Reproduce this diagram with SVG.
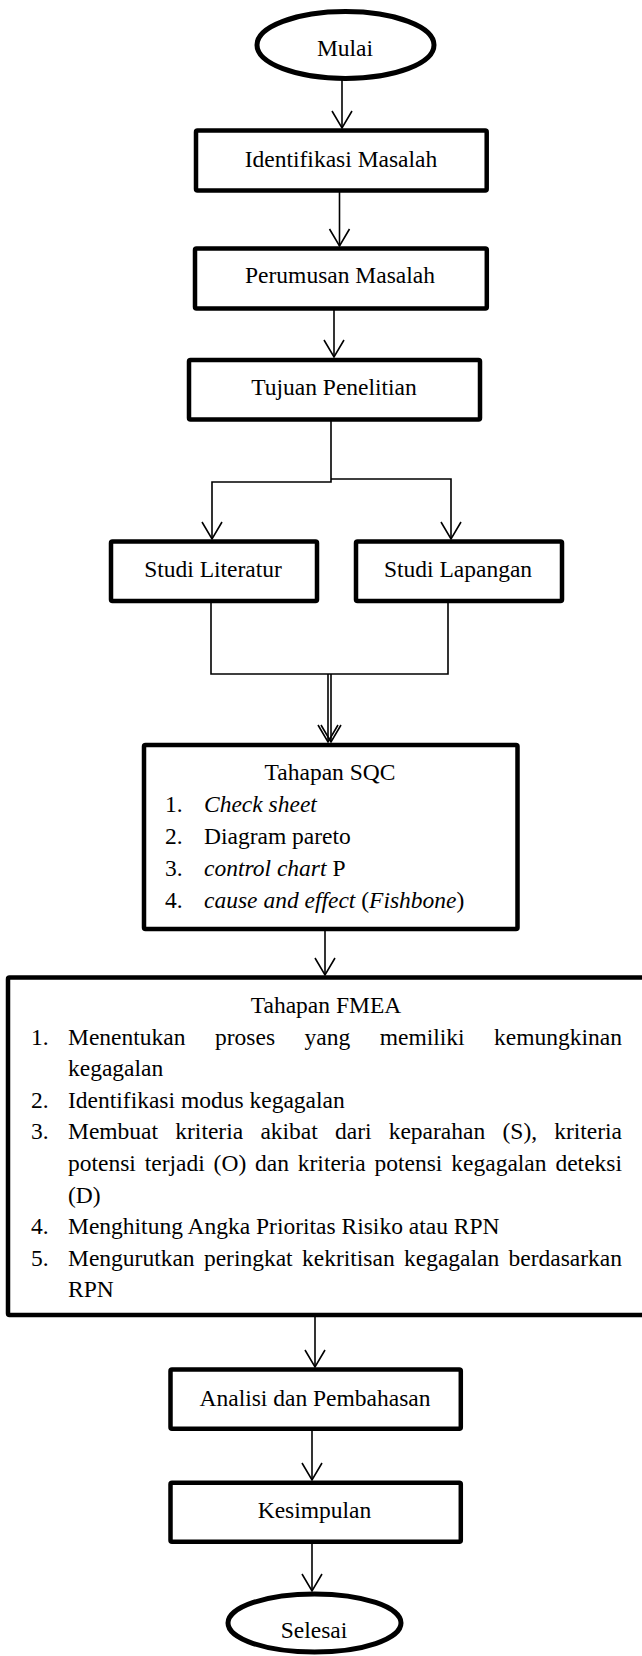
<svg xmlns="http://www.w3.org/2000/svg" width="642" height="1656" viewBox="0 0 642 1656">
<style>
text{font-family:'Liberation Serif','DejaVu Serif',serif;font-size:23.5px;fill:#000}
.c{text-anchor:middle}
.e{text-anchor:end}
.i{font-style:italic}
.box{fill:#fff;stroke:#000;stroke-width:4.5}
.term{fill:#fff;stroke:#000;stroke-width:5}
.ln{fill:none;stroke:#000;stroke-width:1.6}
</style>
<defs>
<marker id="arr" markerUnits="userSpaceOnUse" markerWidth="40" markerHeight="40" viewBox="-20 -20 40 40" refX="0" refY="0" orient="auto" overflow="visible">
<path d="M-17,-10 L0,0 L-17,10" fill="none" stroke="#000" stroke-width="1.6"/>
</marker>
</defs>

<g id="connectors">
<path class="ln" d="M342,80 V128" marker-end="url(#arr)"/>
<path class="ln" d="M339.5,191 V246" marker-end="url(#arr)"/>
<path class="ln" d="M334,309 V357" marker-end="url(#arr)"/>
<path class="ln" d="M331,420 V482 H212 V539" marker-end="url(#arr)"/>
<path class="ln" d="M331,479 H451 V539" marker-end="url(#arr)"/>
<path class="ln" d="M211,601 V674 H448 V601"/>
<path class="ln" d="M328,674 V742" marker-end="url(#arr)"/>
<path class="ln" d="M331,674 V742" marker-end="url(#arr)"/>
<path class="ln" d="M325,929 V975" marker-end="url(#arr)"/>
<path class="ln" d="M315,1315 V1367" marker-end="url(#arr)"/>
<path class="ln" d="M312,1429 V1480" marker-end="url(#arr)"/>
<path class="ln" d="M312,1542 V1591" marker-end="url(#arr)"/>
</g>

<g id="mulai">
<ellipse class="term" cx="345.5" cy="45" rx="88.5" ry="33.5"/>
<text class="c" x="345" y="56">Mulai</text>
</g>

<g id="identifikasi">
<rect class="box" x="196" y="130.5" width="290.7" height="60" rx="1.5"/>
<text class="c" x="341" y="167">Identifikasi Masalah</text>
</g>

<g id="perumusan">
<rect class="box" x="195" y="248.5" width="291.8" height="60" rx="1.5"/>
<text class="c" x="340" y="283">Perumusan Masalah</text>
</g>

<g id="tujuan">
<rect class="box" x="189" y="360" width="291" height="59.5" rx="1.5"/>
<text class="c" x="334" y="395">Tujuan Penelitian</text>
</g>

<g id="studi-literatur">
<rect class="box" x="111" y="541.5" width="206" height="59.5" rx="1.5"/>
<text class="c" x="213" y="577">Studi Literatur</text>
</g>

<g id="studi-lapangan">
<rect class="box" x="356" y="541.5" width="206" height="59.5" rx="1.5"/>
<text class="c" x="458" y="577">Studi Lapangan</text>
</g>

<g id="sqc">
<rect class="box" x="144" y="745" width="373.5" height="184" rx="1.5"/>
<text class="c" x="330" y="780">Tahapan SQC</text>
<text x="165" y="812">1.</text><text class="i" x="204" y="812">Check sheet</text>
<text x="165" y="844">2.</text><text x="204" y="844">Diagram pareto</text>
<text x="165" y="876">3.</text><text x="204" y="876"><tspan class="i">control chart</tspan> P</text>
<text x="165" y="908">4.</text><text x="204" y="908"><tspan class="i">cause and effect</tspan> (<tspan class="i">Fishbone</tspan>)</text>
</g>

<g id="fmea">
<rect class="box" x="8" y="977.5" width="637" height="337.5" rx="1.5"/>
<text class="c" x="326" y="1013">Tahapan FMEA</text>
<text x="31" y="1044.6">1.</text>
<text y="1044.6"><tspan x="68">Menentukan</tspan><tspan x="215">proses</tspan><tspan x="304.5">yang</tspan><tspan x="379.7">memiliki</tspan></text>
<text class="e" x="622" y="1044.6">kemungkinan</text>
<text x="68" y="1076.2">kegagalan</text>
<text x="31" y="1107.8">2.</text>
<text x="68" y="1107.8">Identifikasi modus kegagalan</text>
<text x="31" y="1139.4">3.</text>
<text y="1139.4"><tspan x="68">Membuat</tspan><tspan x="175.3">kriteria</tspan><tspan x="260.4">akibat</tspan><tspan x="335">dari</tspan><tspan x="388.7">keparahan</tspan><tspan x="502.5">(S),</tspan></text>
<text class="e" x="622" y="1139.4">kriteria</text>
<text y="1171"><tspan x="68">potensi</tspan><tspan x="144.7">terjadi</tspan><tspan x="213.6">(O)</tspan><tspan x="255">dan</tspan><tspan x="297.8">kriteria</tspan><tspan x="374.5">potensi</tspan><tspan x="451.3">kegagalan</tspan></text>
<text class="e" x="622" y="1171">deteksi</text>
<text x="68" y="1202.6">(D)</text>
<text x="31" y="1234.2">4.</text>
<text x="68" y="1234.2">Menghitung Angka Prioritas Risiko atau RPN</text>
<text x="31" y="1265.8">5.</text>
<text y="1265.8"><tspan x="68">Mengurutkan</tspan><tspan x="203.9">peringkat</tspan><tspan x="302">kekritisan</tspan><tspan x="404">kegagalan</tspan></text>
<text class="e" x="622" y="1265.8">berdasarkan</text>
<text x="68" y="1297.4">RPN</text>
</g>

<g id="analisi">
<rect class="box" x="170.5" y="1369.5" width="290.3" height="59.2" rx="1.5"/>
<text class="c" x="315" y="1406">Analisi dan Pembahasan</text>
</g>

<g id="kesimpulan">
<rect class="box" x="170.5" y="1482.8" width="290.3" height="59" rx="1.5"/>
<text class="c" x="314.5" y="1518">Kesimpulan</text>
</g>

<g id="selesai">
<ellipse class="term" cx="314.5" cy="1623" rx="86.5" ry="29"/>
<text class="c" x="314" y="1638">Selesai</text>
</g>
</svg>
